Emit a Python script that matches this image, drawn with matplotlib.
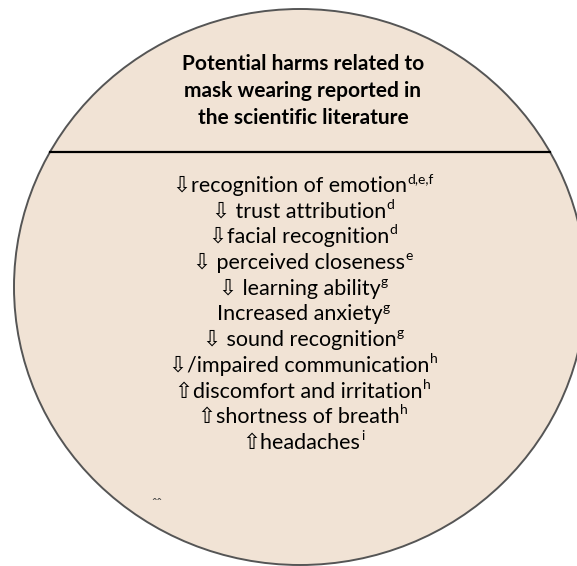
import matplotlib
matplotlib.use('Agg')
import matplotlib.pyplot as plt
from matplotlib.patches import Ellipse
import numpy as np

# Content
title_lines = ['Potential harms related to',
               'mask wearing reported in',
               'the scientific literature']
harms = ['\u21e9recognition of emotion',
         '\u21e9 trust attribution',
         '\u21e9facial recognition',
         '\u21e9 perceived closeness',
         '\u21e9 learning ability',
         'Increased anxiety',
         '\u21e9 sound recognition',
         '\u21e9/impaired communication',
         '\u21e7discomfort and irritation',
         '\u21e7shortness of breath',
         '\u21e7headaches']
refs = ['d,e,f', 'd', 'd', 'e', 'g', 'g', 'g', 'h', 'h', 'h', 'i']

W, H = 577, 566
fig = plt.figure(figsize=(W / 100, H / 100), dpi=100)
ax = fig.add_axes([0, 0, 1, 1])
ax.set_xlim(0, W)
ax.set_ylim(H, 0)
ax.axis('off')

# Circle (slightly elliptical, clipped on the right)
cx, cy, rx, ry = 300, 287, 286, 278
ax.add_patch(Ellipse((cx, cy), 2 * rx, 2 * ry, facecolor='#f1e3d5',
                     edgecolor='#555555', lw=1.4, zorder=1))

# Divider across the circle
y_div = 152
half = rx * np.sqrt(1 - ((y_div - cy) / ry) ** 2)
ax.plot([cx - half, min(cx + half, W)], [y_div, y_div], color='black', lw=1.6, zorder=2)

fam = ['Lato', 'DejaVu Sans']
xc = 303

# Title
for i, t in enumerate(title_lines):
    ax.text(xc, 64 + i * 27, t, ha='center', va='center', fontsize=15,
            fontweight='bold', family=fam, zorder=3)

# List with superscript references, centered as a whole
fig.canvas.draw()
renderer = fig.canvas.get_renderer()
y0, dy = 186, 25.7
for i, (t, r) in enumerate(zip(harms, refs)):
    y = y0 + i * dy
    main = ax.text(0, y, t, ha='left', va='center', fontsize=15.5, family=fam, zorder=3)
    sup = ax.text(0, y - 7, r, ha='left', va='center', fontsize=10, family=fam, zorder=3)
    w1 = main.get_window_extent(renderer).width
    w2 = sup.get_window_extent(renderer).width
    x0 = xc - (w1 + w2) / 2
    main.set_x(x0)
    sup.set_x(x0 + w1 + 0.5)

# stray marks near the bottom
ax.text(151, 504, '\u02c6\u02c6', fontsize=10, family=fam, color='#444444',
        ha='left', va='center', zorder=3)

fig.savefig('out.png', dpi=100)
